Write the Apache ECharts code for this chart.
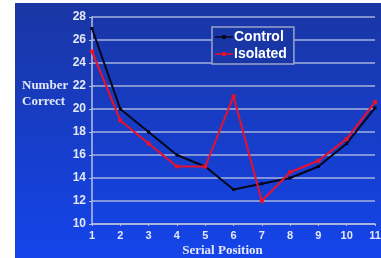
<!DOCTYPE html>
<html><head><meta charset="utf-8">
<script src="https://cdn.jsdelivr.net/npm/echarts@6/dist/echarts.min.js"></script>
<style>html,body{margin:0;padding:0;background:#fff}#c{width:381px;height:258px}</style>
</head><body><div id="c"></div>
<script>
const categories = ['1','2','3','4','5','6','7','8','9','10','11'];
const control = [27, 20, 18, 16, 15, 13, 13.5, 14, 15, 17, 20.1];
const isolated = [25, 19, 17, 15, 15, 21.1, 12, 14.5, 15.5, 17.4, 20.6];
const yTicks = {min: 10, max: 28, interval: 2};

const chart = echarts.init(document.getElementById('c'));
const txt = '#e4e8f6';
chart.setOption({
  animation: false,
  graphic: [
    {type: 'rect', z: -10, shape: {x: 15, y: 3, width: 366, height: 255},
     style: {fill: new echarts.graphic.LinearGradient(0, 0, 0, 1, [
       {offset: 0, color: '#1a36a4'}, {offset: 1, color: '#1444ea'}])}},
    {type: 'text', left: 22, top: 78, style: {text: 'Number\nCorrect', fill: txt,
      font: 'bold 13px "Liberation Serif"', lineHeight: 16}},
    {type: 'text', x: 222.5, y: 251, style: {text: 'Serial Position', fill: txt,
      font: 'bold 13px "Liberation Serif"', align: 'center', verticalAlign: 'middle'}}
  ],
  grid: {left: 92, right: 6, top: 17, bottom: 34, containLabel: false, outerBoundsMode: 'none'},
  legend: {
    left: 212, top: 27, orient: 'vertical', itemGap: 3, itemWidth: 18, itemHeight: 8,
    padding: [3, 7, 3, 3],
    backgroundColor: '#1836a6', borderColor: '#9aa4cc', borderWidth: 1.5,
    textStyle: {color: '#ffffff', fontWeight: 'bold', fontSize: 14, fontFamily: 'Liberation Sans', padding: [0,0,0,-4], lineHeight: 14},
    data: [{name: 'Control', icon: 'path://M0,4h16v1.5h-16z M6.5,3h3v3.5h-3z'},
           {name: 'Isolated', icon: 'path://M0,4h16v1.5h-16z M6.5,3h3v3.5h-3z'}]
  },
  xAxis: {
    type: 'category', data: categories, boundaryGap: false,
    axisLine: {lineStyle: {color: '#b8c0e0', width: 1.5}},
    axisTick: {show: true, length: 2, lineStyle: {color: '#b8c0e0'}},
    axisLabel: {color: txt, fontWeight: 'bold', fontSize: 11, fontFamily: 'Liberation Sans', margin: 6},
    splitLine: {show: false}
  },
  yAxis: {
    type: 'value', min: yTicks.min, max: yTicks.max, interval: yTicks.interval,
    axisLine: {show: true, lineStyle: {color: '#b8c0e0', width: 1.5}},
    axisTick: {show: true, length: 3, lineStyle: {color: '#b8c0e0'}},
    axisLabel: {color: txt, fontWeight: 'bold', fontSize: 12, fontFamily: 'Liberation Sans', margin: 6},
    splitLine: {show: true, lineStyle: {color: '#a6b2dc', width: 1.5}}
  },
  series: [
    {name: 'Control', type: 'line', data: control, color: '#000000',
     lineStyle: {width: 2, color: '#05061a'}, symbol: 'rect', symbolSize: 3,
     itemStyle: {color: '#05061a'}},
    {name: 'Isolated', type: 'line', data: isolated, color: '#e8102c',
     lineStyle: {width: 2, color: '#e8102c'}, symbol: 'rect', symbolSize: 4,
     itemStyle: {color: '#e8102c'}}
  ]
});
</script></body></html>
